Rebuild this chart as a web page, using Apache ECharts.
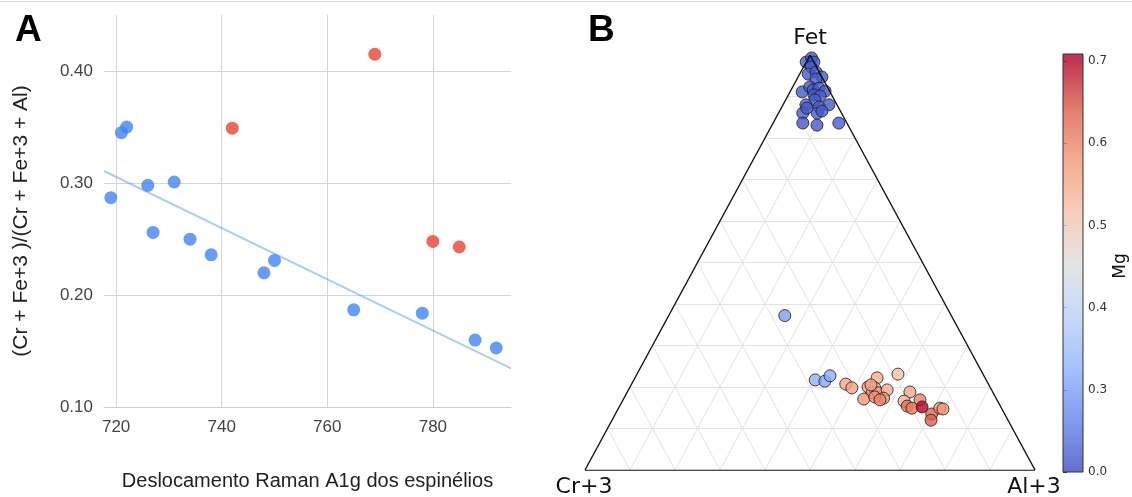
<!DOCTYPE html>
<html>
<head>
<meta charset="utf-8"/>
<title>Espinélios</title>
<script src="https://cdn.jsdelivr.net/npm/echarts@6/dist/echarts.min.js"></script>
<style>
    html, body { margin: 0; padding: 0; background: #fff; }
    #main { width: 1132px; height: 497px; }
</style>
</head>
<body>
<div id="main"></div>
<script>
// ---- painel A: deslocamento Raman x razão ----
var ramanAzul = [719, 721, 722, 726, 727, 731, 734, 738, 748, 750, 765, 778, 788, 792];
var razaoAzul = [0.287, 0.345, 0.350, 0.298, 0.256, 0.301, 0.250, 0.236, 0.220, 0.231, 0.187, 0.184, 0.160, 0.153];
var ramanVermelho = [742, 769, 780, 785];
var razaoVermelho = [0.349, 0.415, 0.248, 0.243];
var ticksRaman = [720, 740, 760, 780];
var ticksRazao = [0.10, 0.20, 0.30, 0.40];

// ---- painel B: ternário Fet / Cr+3 / Al+3, cor = Mg ----
var fet = [0.983, 0.993, 0.983, 0.971, 0.954, 0.959, 0.947, 0.942, 0.911, 0.923, 0.916, 0.920, 0.913,
           0.904, 0.901, 0.892, 0.880, 0.880, 0.875, 0.860, 0.860, 0.865, 0.836, 0.831, 0.836, 0.872,
           0.372,
           0.217, 0.214, 0.227,
           0.207, 0.198, 0.222, 0.231, 0.200, 0.198, 0.186, 0.171, 0.186, 0.193, 0.173, 0.176,
           0.169, 0.188, 0.166, 0.154, 0.149, 0.169, 0.152, 0.135, 0.120, 0.149, 0.147, 0.205];
var cr  = [0.017, 0.000, 0.000, 0.012, 0.027, 0.007, 0.000, 0.016, 0.062, 0.039, 0.035, 0.020, 0.010,
           0.039, 0.027, 0.043, 0.018, 0.069, 0.042, 0.086, 0.054, 0.041, 0.098, 0.069, 0.018, 0.071,
           0.370,
           0.380, 0.360, 0.342,
           0.317, 0.308, 0.240, 0.189, 0.271, 0.257, 0.269, 0.295, 0.256, 0.232, 0.250, 0.268,
           0.260, 0.184, 0.208, 0.207, 0.199, 0.171, 0.175, 0.162, 0.171, 0.137, 0.131, 0.262];
var al  = [0.000, 0.007, 0.017, 0.017, 0.019, 0.034, 0.053, 0.042, 0.027, 0.038, 0.049, 0.060, 0.077,
           0.057, 0.072, 0.065, 0.102, 0.051, 0.083, 0.054, 0.086, 0.094, 0.066, 0.100, 0.146, 0.057,
           0.258,
           0.403, 0.426, 0.431,
           0.476, 0.494, 0.538, 0.580, 0.529, 0.545, 0.545, 0.534, 0.558, 0.575, 0.577, 0.556,
           0.571, 0.628, 0.626, 0.639, 0.652, 0.660, 0.673, 0.703, 0.709, 0.714, 0.722, 0.533];
var mg  = [0.05, 0.04, 0.05, 0.06, 0.05, 0.04, 0.05, 0.06, 0.05, 0.04, 0.05, 0.06, 0.05,
           0.04, 0.06, 0.05, 0.05, 0.06, 0.04, 0.05, 0.06, 0.05, 0.04, 0.05, 0.06, 0.05,
           0.30,
           0.33, 0.31, 0.32,
           0.56, 0.56, 0.55, 0.52, 0.57, 0.54, 0.58, 0.58, 0.57, 0.55, 0.58, 0.59,
           0.60, 0.56, 0.54, 0.62, 0.61, 0.60, 0.70, 0.63, 0.64, 0.58, 0.58, 0.56];
var divisoes = [0.1, 0.2, 0.3, 0.4, 0.5, 0.6, 0.7, 0.8, 0.9];
var mgTicks = [0.0, 0.3, 0.4, 0.5, 0.6, 0.7];
// coolwarm
var coolwarm = ['#3b4cc0', '#6282ea', '#8db0fe', '#b8d0f9', '#dddddd', '#f5c4ad', '#f49a7b', '#de604d', '#b40426'];

var xMinA = 717.7, xMaxA = 794.8;

// reta de tendência (mínimos quadrados nos pontos azuis)
function regressao(xs, ys) {
    var n = xs.length, mx = 0, my = 0, sxy = 0, sxx = 0;
    for (var i = 0; i < n; i++) { mx += xs[i] / n; my += ys[i] / n; }
    for (var j = 0; j < n; j++) {
        sxy += (xs[j] - mx) * (ys[j] - my);
        sxx += (xs[j] - mx) * (xs[j] - mx);
    }
    var b = sxy / sxx;
    return function (x) { return my + b * (x - mx); };
}
var tend = regressao(ramanAzul, razaoAzul);

function pares(xs, ys) {
    return xs.map(function (x, i) { return [x, ys[i]]; });
}

// ternário -> plano
function ternXY(f, c, a) {
    var s = f + c + a;
    return [a / s + f / s / 2, f / s];
}

// posição na barra de cores (ticks igualmente espaçados)
var cbFrac = mgTicks.map(function (v, i) { return i / (mgTicks.length - 1); });
var cbTopo = 1.017;
function mgParaFrac(v) {
    for (var i = 1; i < mgTicks.length; i++) {
        if (v <= mgTicks[i]) {
            return cbFrac[i - 1] + (v - mgTicks[i - 1]) / (mgTicks[i] - mgTicks[i - 1]) * (cbFrac[i] - cbFrac[i - 1]);
        }
    }
    return 1;
}
function mgCor(v) {
    return echarts.color.lerp(Math.max(0, Math.min(1, mgParaFrac(v))), coolwarm);
}

var pontosTern = fet.map(function (f, i) {
    var p = ternXY(f, cr[i], al[i]);
    return [p[0], p[1], mg[i]];
});

var linhasGrade = [];
divisoes.forEach(function (d) {
    linhasGrade.push({coords: [ternXY(d, 1 - d, 0), ternXY(d, 0, 1 - d)]});   // Fet constante
    linhasGrade.push({coords: [ternXY(0, 1 - d, d), ternXY(1 - d, 0, d)]});   // Al constante
    linhasGrade.push({coords: [ternXY(0, d, 1 - d), ternXY(1 - d, d, 0)]});   // Cr constante
});
var bordas = [
    {coords: [ternXY(0, 1, 0), ternXY(0, 0, 1)]},
    {coords: [ternXY(0, 0, 1), ternXY(1, 0, 0)]},
    {coords: [ternXY(1, 0, 0), ternXY(0, 1, 0)]}
];

var cbStops = coolwarm.map(function (c, i) {
    return {offset: (i / (coolwarm.length - 1)) / cbTopo, color: echarts.color.modifyAlpha(c, 0.8)};
});
cbStops.push({offset: 1, color: echarts.color.modifyAlpha(coolwarm[coolwarm.length - 1], 0.8)});

var fonteA = 'Liberation Sans, Arial, sans-serif';
var fonteB = 'DejaVu Sans, sans-serif';

var chart = echarts.init(document.getElementById('main'));
var option = {
    animation: false,
    textStyle: {fontFamily: fonteA},
    grid: [
        {left: 104, top: 15, width: 407, height: 392.3, outerBoundsMode: 'none'},
        {left: 585, top: 55, width: 450, height: 415, outerBoundsMode: 'none'},
        {left: 1063, top: 54, width: 20, height: 418, outerBoundsMode: 'none'}
    ],
    xAxis: [
        {
            gridIndex: 0, type: 'value', min: xMinA, max: xMaxA,
            axisLine: {show: true, lineStyle: {color: '#cfcfcf'}},
            axisTick: {show: false, customValues: ticksRaman},
            axisLabel: {customValues: ticksRaman, color: '#444', fontSize: 17, margin: 12, fontFamily: fonteA},
            splitLine: {show: true, lineStyle: {color: '#d6d6d6', width: 1}},
            name: 'Deslocamento Raman A1g dos espinélios', nameLocation: 'middle', nameGap: 64,
            nameTextStyle: {fontSize: 20, color: '#222', fontFamily: fonteA}
        },
        {gridIndex: 1, type: 'value', min: 0, max: 1, show: false},
        {gridIndex: 2, type: 'value', min: 0, max: 1, show: false}
    ],
    yAxis: [
        {
            gridIndex: 0, type: 'value', min: 0.10, max: 0.45,
            axisLine: {show: false},
            axisTick: {show: false, customValues: ticksRazao},
            axisLabel: {
                customValues: ticksRazao, color: '#444', fontSize: 17, margin: 11, fontFamily: fonteA,
                formatter: function (v) { return v.toFixed(2); }
            },
            splitLine: {show: true, lineStyle: {color: '#d6d6d6', width: 1}}
        },
        {gridIndex: 1, type: 'value', min: 0, max: 1, show: false},
        {
            gridIndex: 2, type: 'value', min: 0, max: cbTopo, position: 'right',
            axisLine: {show: false},
            axisTick: {show: true, length: 4, customValues: cbFrac, lineStyle: {color: '#333'}},
            axisLabel: {
                customValues: cbFrac, color: '#333', fontSize: 12, margin: 5, fontFamily: fonteB,
                formatter: function (v) { return mgTicks[Math.round(v * (mgTicks.length - 1))].toFixed(1); }
            },
            splitLine: {show: false}
        }
    ],
    graphic: [
        {type: 'line', shape: {x1: 0, y1: 1.5, x2: 1132, y2: 1.5}, style: {stroke: '#d9d9d9', lineWidth: 1}},
        {type: 'text', left: 15, top: 12, style: {text: 'A', font: 'bold 37px ' + fonteA, fill: '#000'}},
        {type: 'text', left: 588, top: 12, style: {text: 'B', font: 'bold 37px ' + fonteA, fill: '#000'}},
        {type: 'text', x: 21, y: 221, rotation: Math.PI / 2, style: {text: '(Cr + Fe+3 )/(Cr + Fe+3 + Al)', font: '21px ' + fonteA, fill: '#222', align: 'center', verticalAlign: 'middle'}},
        {type: 'text', x: 810, y: 38, style: {text: 'Fet', font: '22px ' + fonteB, fill: '#111', align: 'center', verticalAlign: 'middle'}},
        {type: 'text', x: 584, y: 487, style: {text: 'Cr+3', font: '22px ' + fonteB, fill: '#111', align: 'center', verticalAlign: 'middle'}},
        {type: 'text', x: 1034, y: 487, style: {text: 'Al+3', font: '22px ' + fonteB, fill: '#111', align: 'center', verticalAlign: 'middle'}},
        {type: 'text', x: 1121, y: 266, rotation: Math.PI / 2, style: {text: 'Mg', font: '17px ' + fonteB, fill: '#111', align: 'center', verticalAlign: 'middle'}}
    ],
    series: [
        {
            type: 'line', xAxisIndex: 0, yAxisIndex: 0, z: 1, silent: true,
            data: [[xMinA, tend(xMinA)], [xMaxA, tend(xMaxA)]],
            symbol: 'none', lineStyle: {color: '#4285F4', width: 2, opacity: 0.42}
        },
        {
            type: 'scatter', xAxisIndex: 0, yAxisIndex: 0, z: 3,
            data: pares(ramanAzul, razaoAzul), symbolSize: 13,
            itemStyle: {color: '#4285F4'}
        },
        {
            type: 'scatter', xAxisIndex: 0, yAxisIndex: 0, z: 3,
            data: pares(ramanVermelho, razaoVermelho), symbolSize: 13,
            itemStyle: {color: '#EA4335'}
        },
        {
            type: 'lines', coordinateSystem: 'cartesian2d', xAxisIndex: 1, yAxisIndex: 1, z: 1, silent: true,
            data: linhasGrade, lineStyle: {color: '#e3e3e3', width: 1, opacity: 1}
        },
        {
            type: 'scatter', xAxisIndex: 1, yAxisIndex: 1, z: 3,
            data: pontosTern, symbolSize: 12,
            itemStyle: {
                color: function (p) { return mgCor(p.value[2]); },
                opacity: 0.8, borderColor: '#1a1a1a', borderWidth: 1
            }
        },
        {
            type: 'lines', coordinateSystem: 'cartesian2d', xAxisIndex: 1, yAxisIndex: 1, z: 4, silent: true,
            data: bordas, lineStyle: {color: '#111', width: 1.4, opacity: 1}
        },
        {
            type: 'custom', xAxisIndex: 2, yAxisIndex: 2, silent: true,
            data: [[0, 1, 0, cbTopo]],
            renderItem: function (params, api) {
                var p0 = api.coord([api.value(0), api.value(3)]);
                var p1 = api.coord([api.value(1), api.value(2)]);
                return {
                    type: 'rect',
                    shape: {x: p0[0], y: p0[1], width: p1[0] - p0[0], height: p1[1] - p0[1]},
                    style: {fill: new echarts.graphic.LinearGradient(0, 1, 0, 0, cbStops), stroke: '#333', lineWidth: 1}
                };
            }
        }
    ]
};
chart.setOption(option);
window.onresize = function () { chart.resize(); };
</script>
</body>
</html>
